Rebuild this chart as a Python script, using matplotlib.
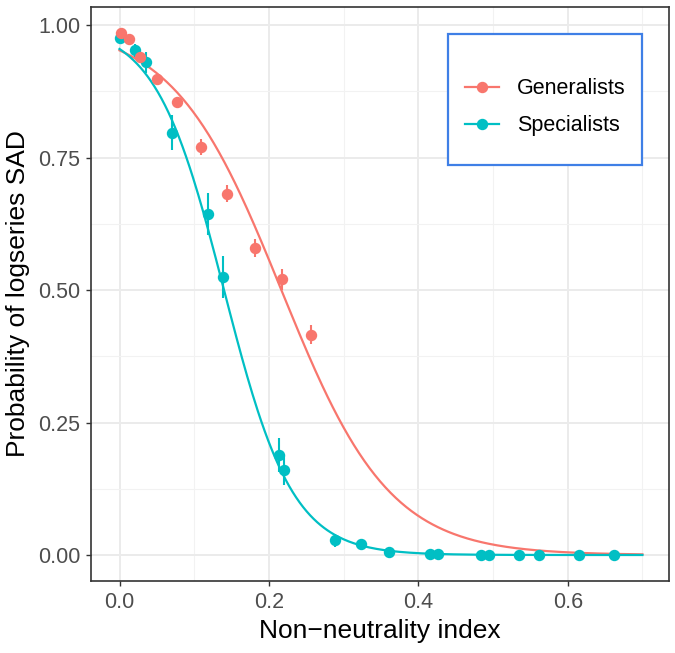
import numpy as np
import matplotlib
matplotlib.use('Agg')
import matplotlib.pyplot as plt
from matplotlib.patches import Rectangle
from matplotlib.lines import Line2D

plt.rcParams['font.family'] = ['Liberation Sans', 'DejaVu Sans']

# точки: генералисты
gen_x = [0.002, 0.013, 0.028, 0.050, 0.077, 0.109, 0.144, 0.181, 0.218, 0.257]
gen_y = [0.984, 0.973, 0.940, 0.899, 0.855, 0.770, 0.682, 0.580, 0.520, 0.416]
gen_err = [0.004, 0.005, 0.006, 0.007, 0.008, 0.015, 0.016, 0.017, 0.020, 0.018]

# точки: специалисты
spec_x = [0.000, 0.021, 0.036, 0.070, 0.119, 0.138, 0.213, 0.220, 0.289, 0.323,
          0.361, 0.416, 0.426, 0.484, 0.495, 0.535, 0.561, 0.615, 0.662]
spec_y = [0.975, 0.952, 0.930, 0.797, 0.643, 0.525, 0.189, 0.160, 0.028, 0.021,
          0.006, 0.001, 0.001, 0.000, 0.000, 0.000, 0.000, 0.000, 0.000]
spec_err = [0.005, 0.012, 0.020, 0.033, 0.040, 0.040, 0.032, 0.028, 0.012, 0.008,
            0.003, 0.001, 0.001, 0.001, 0.001, 0.001, 0.001, 0.001, 0.001]

# параметры логистической регрессии (оценены по картинке)
gen_a, gen_b = 2.99, -13.8
spec_a, spec_b = 3.05, -21.8
x_max = 0.7

col_gen = '#F8766D'
col_spec = '#00BFC4'

xx = np.linspace(0, x_max, 300)
gen_fit = 1 / (1 + np.exp(-(gen_a + gen_b * xx)))
spec_fit = 1 / (1 + np.exp(-(spec_a + spec_b * xx)))

fig = plt.figure(figsize=(6.75, 6.53), dpi=100)
ax = fig.add_axes([0.1348, 0.1103, 0.8563, 0.879])

# сетка как в theme_bw
ax.set_xticks([0.1, 0.3, 0.5, 0.7], minor=True)
ax.set_yticks([0.125, 0.375, 0.625, 0.875], minor=True)
ax.grid(which='major', color='#EBEBEB', lw=1.4, zorder=0)
ax.grid(which='minor', color='#F2F2F2', lw=0.8, zorder=0)
ax.set_axisbelow(True)

ax.plot(xx, gen_fit, color=col_gen, lw=1.6, zorder=2)
ax.plot(xx, spec_fit, color=col_spec, lw=1.6, zorder=2)

ax.errorbar(spec_x, spec_y, yerr=spec_err, fmt='o', color=col_spec, ms=7.2,
            elinewidth=1.5, capsize=0, zorder=3)
ax.errorbar(gen_x, gen_y, yerr=gen_err, fmt='o', color=col_gen, ms=7.2,
            elinewidth=1.5, capsize=0, zorder=4)

ax.set_xlim(-0.0382, 0.7356)
ax.set_ylim(-0.049, 1.034)
ax.set_xticks([0, 0.2, 0.4, 0.6])
ax.set_xticklabels(['0.0', '0.2', '0.4', '0.6'])
ax.set_yticks([0, 0.25, 0.5, 0.75, 1.0])
ax.set_yticklabels(['0.00', '0.25', '0.50', '0.75', '1.00'])
ax.tick_params(which='major', length=3.6, width=1.0, color='#333333',
               labelsize=15.5, labelcolor='#4D4D4D', pad=4)
ax.tick_params(which='minor', length=0)
for s in ax.spines.values():
    s.set_color('#333333')
    s.set_linewidth(1.2)

ax.set_xlabel('Non\u2212neutrality index', fontsize=19, labelpad=5)
ax.set_ylabel('Probability of logseries SAD', fontsize=19, labelpad=6)

# рамка легенды
ax.add_patch(Rectangle((0.618, 0.725), 0.335, 0.228, transform=ax.transAxes,
                       facecolor='white', edgecolor='#3F7FE6', lw=1.6, zorder=5))
handles = [Line2D([], [], color=col_gen, marker='o', ms=7.2, lw=1.6),
           Line2D([], [], color=col_spec, marker='o', ms=7.2, lw=1.6)]
leg = ax.legend(handles, ['Generalists', 'Specialists'], loc='upper left',
                bbox_to_anchor=(0.647, 0.876), frameon=False, fontsize=15.5,
                borderpad=0, borderaxespad=0, handlelength=1.57,
                handletextpad=0.83, labelspacing=0.75)
leg.set_zorder(6)

fig.savefig('out.png', dpi=100)
